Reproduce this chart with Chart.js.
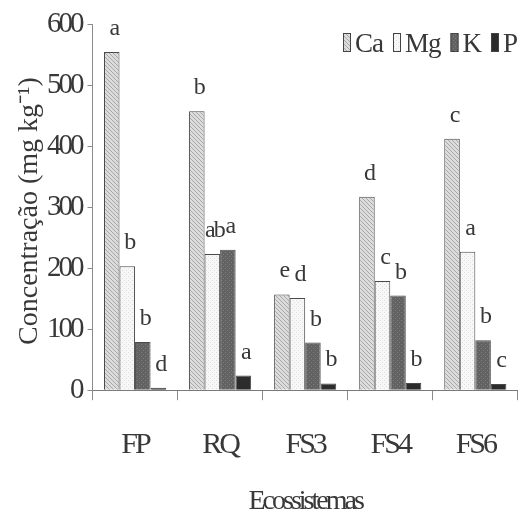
<!DOCTYPE html>
<html><head><meta charset="utf-8">
<script src="https://cdn.jsdelivr.net/npm/chart.js@4"></script>
<style>html,body{margin:0;padding:0;background:#fff}</style>
</head><body>
<canvas id="c" width="522" height="514"></canvas>
<script>
const categories = ['FP', 'RQ', 'FS3', 'FS4', 'FS6'];
const seriesNames = ['Ca', 'Mg', 'K', 'P'];
const caValues = [554, 457, 157, 317, 412];
const mgValues = [203, 223, 151, 179, 227];
const kValues = [79, 230, 78, 155, 82];
const pValues = [4, 24, 11, 12, 10];
const caLetters = ['a', 'b', 'e', 'd', 'c'];
const mgLetters = ['b', 'ab', 'd', 'c', 'a'];
const kLetters = ['b', 'a', 'b', 'b', 'b'];
const pLetters = ['d', 'a', 'b', 'b', 'c'];
const yTitle = 'Concentração (mg kg⁻¹)';
const xTitle = 'Ecossistemas';
const yMin = 0, yMax = 600, yStep = 100;

const FONT = "'Liberation Serif','Times New Roman',serif";
const TEXT = '#383838';

function makePattern(bg, fg, kind) {
  const c = document.createElement('canvas');
  c.width = 4; c.height = 4;
  const x = c.getContext('2d');
  x.fillStyle = bg; x.fillRect(0, 0, 4, 4);
  x.fillStyle = fg;
  if (kind === 'diag') { for (let i = 0; i < 4; i++) x.fillRect(i, i, 1, 1); }
  else if (kind === 'dots') { x.fillRect(0, 0, 1, 1); x.fillRect(2, 2, 1, 1); }
  else if (kind === 'dark') { x.fillRect(1, 0, 1, 1); x.fillRect(3, 2, 1, 1); }
  return x.createPattern(c, 'repeat');
}

const fills = [
  makePattern('#dcdcdc', '#a8a8a8', 'diag'),
  makePattern('#f7f7f7', '#dedede', 'dots'),
  makePattern('#626262', '#7e7e7e', 'dark'),
  '#2c2c2c'
];
const valueSets = [caValues, mgValues, kValues, pValues];
const letterSets = [caLetters, mgLetters, kLetters, pLetters];

const stylePlugin = {
  id: 'stylePlugin',
  beforeLayout(chart) { chart.ctx.letterSpacing = '-3px'; },
  beforeDraw(chart) { chart.ctx.letterSpacing = '-3px'; },
  afterDatasetsDraw(chart) {
    const ctx = chart.ctx;
    ctx.save();
    ctx.letterSpacing = '-2px';
    ctx.font = '24px ' + FONT;
    ctx.fillStyle = TEXT;
    ctx.textAlign = 'center';
    ctx.textBaseline = 'alphabetic';
    chart.data.datasets.forEach((ds, i) => {
      const meta = chart.getDatasetMeta(i);
      meta.data.forEach((bar, j) => {
        ctx.fillText(letterSets[i][j], bar.x + 2, bar.y - 17);
      });
    });
    ctx.restore();
  },
  afterDraw(chart) {
    const ctx = chart.ctx;
    const ca = chart.chartArea;
    // y-axis title
    ctx.save();
    ctx.letterSpacing = '0px';
    ctx.font = '28px ' + FONT;
    ctx.fillStyle = TEXT;
    ctx.translate(30, (ca.top + ca.bottom) / 2 + 4);
    ctx.rotate(-Math.PI / 2);
    ctx.textAlign = 'center';
    ctx.textBaseline = 'middle';
    ctx.fillText(yTitle, 0, 0);
    ctx.restore();
    // legend
    ctx.save();
    ctx.letterSpacing = '-1px';
    ctx.font = '27px ' + FONT;
    ctx.textBaseline = 'alphabetic';
    ctx.textAlign = 'left';
    let x = 343;
    const yTop = 33, h = 19, w = 8;
    chart.data.datasets.forEach(ds => {
      ctx.fillStyle = ds.backgroundColor;
      ctx.fillRect(x, yTop, w, h);
      ctx.strokeStyle = '#444';
      ctx.lineWidth = 1;
      ctx.strokeRect(x + 0.5, yTop + 0.5, w - 1, h - 1);
      x += w + 4;
      ctx.fillStyle = TEXT;
      ctx.fillText(ds.label, x, 52);
      x += ctx.measureText(ds.label).width + 10;
    });
    ctx.restore();
  }
};

new Chart(document.getElementById('c'), {
  type: 'bar',
  data: {
    labels: categories,
    datasets: seriesNames.map((name, i) => ({
      label: name,
      data: valueSets[i],
      backgroundColor: fills[i],
      borderColor: '#4a4a4a',
      borderWidth: 1,
      categoryPercentage: 0.73,
      barPercentage: 1.0
    }))
  },
  options: {
    responsive: false,
    devicePixelRatio: 1,
    animation: false,
    layout: { padding: { left: 41, top: 24, right: 0, bottom: 0 } },
    plugins: { legend: { display: false }, tooltip: { enabled: false } },
    scales: {
      x: {
        grid: { display: true, drawOnChartArea: false, drawTicks: true, tickLength: 10, color: '#8a8a8a', offset: true },
        border: { display: true, color: '#7a7a7a' },
        ticks: { font: { family: FONT, size: 30 }, color: TEXT, padding: 27 },
        title: { display: true, text: xTitle, font: { family: FONT, size: 28, lineHeight: 0.85 }, color: TEXT, padding: { top: 0, bottom: 0 } }
      },
      y: {
        min: yMin, max: yMax,
        ticks: { stepSize: yStep, font: { family: FONT, size: 29 }, color: TEXT, padding: 6 },
        grid: { drawOnChartArea: false, tickLength: 5, color: '#8a8a8a' },
        border: { color: '#8a8a8a' }
      }
    }
  },
  plugins: [stylePlugin]
});
</script>
</body></html>
